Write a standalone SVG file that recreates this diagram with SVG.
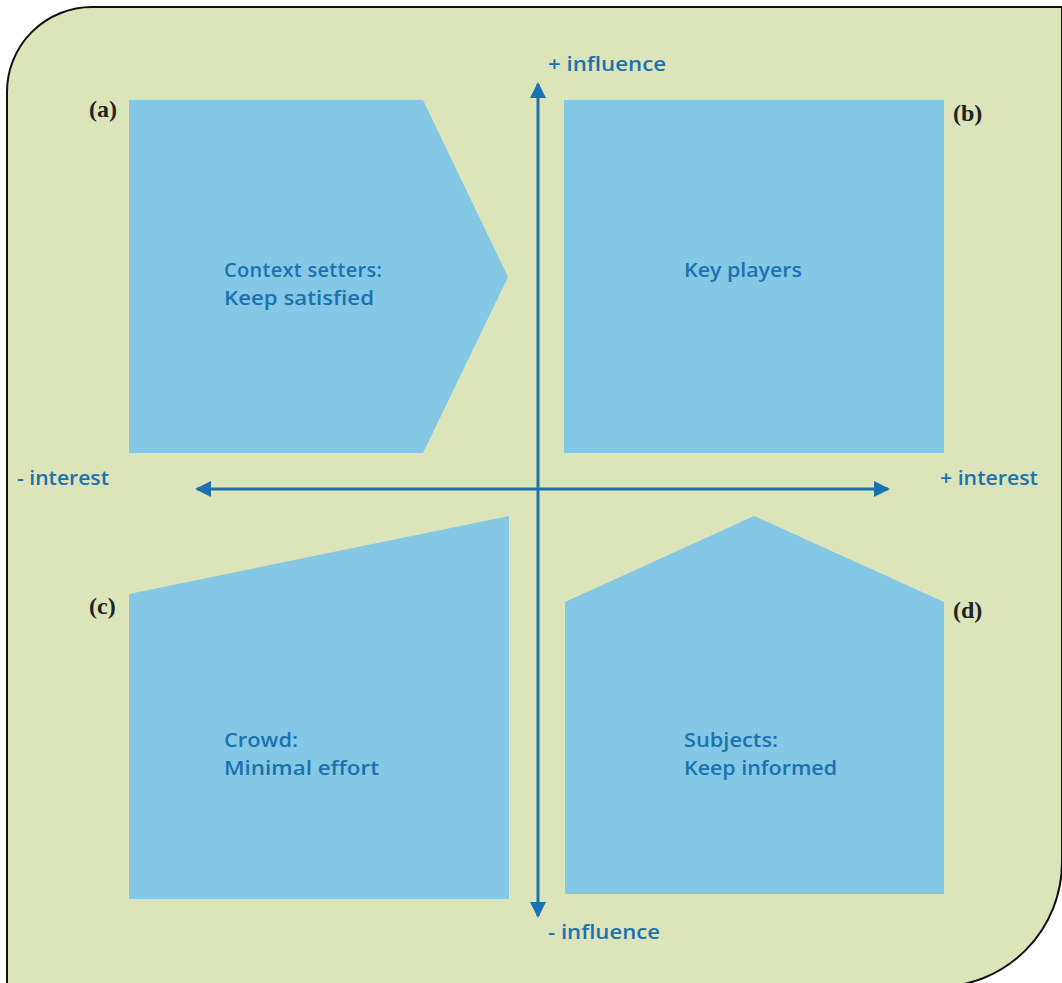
<svg xmlns="http://www.w3.org/2000/svg" width="1062" height="983" viewBox="0 0 1062 983">
<defs>
<style>
.box{fill:#84c8e6;}
.lbl{font-family:"Open Sans","Noto Sans",sans-serif;font-weight:600;font-size:20px;fill:#1a72b0;}
.ax{font-family:"Open Sans","Noto Sans",sans-serif;font-weight:600;font-size:20px;fill:#1a72b0;}
.tag{font-family:"Liberation Serif",serif;font-weight:bold;font-size:24px;fill:#222;}
.axis{stroke:#1a72b0;stroke-width:3;fill:none;}
</style>
<marker id="ah" viewBox="0 0 16 16" refX="14" refY="8" markerWidth="16" markerHeight="16" markerUnits="userSpaceOnUse" orient="auto">
<path d="M0,0 L16,8 L0,16 Z" fill="#1a72b0"/>
</marker>
</defs>
<path d="M7,1000 L7,92 A85,85 0 0 1 92,7 L1062,7 L1062,862 A125,125 0 0 1 937,987" fill="#dce4ba" stroke="#111" stroke-width="2"/>
<g id="node-a">
<polygon class="box" points="129,100 423,100 508,277 423,453 129,453"/>
<text class="lbl" x="224" y="277" textLength="158" lengthAdjust="spacing">Context setters:</text>
<text class="lbl" x="224" y="305" textLength="150" lengthAdjust="spacingAndGlyphs">Keep satisfied</text>
<text class="tag" x="89" y="117">(a)</text>
</g>
<g id="node-b">
<rect class="box" x="564" y="100" width="380" height="353"/>
<text class="lbl" x="684" y="277" textLength="118" lengthAdjust="spacingAndGlyphs">Key players</text>
<text class="tag" x="953" y="121">(b)</text>
</g>
<g id="node-c">
<polygon class="box" points="129,594 509,516 509,899 129,899"/>
<text class="lbl" x="224" y="747" textLength="74" lengthAdjust="spacingAndGlyphs">Crowd:</text>
<text class="lbl" x="224" y="775" textLength="155" lengthAdjust="spacingAndGlyphs">Minimal effort</text>
<text class="tag" x="89" y="614">(c)</text>
</g>
<g id="node-d">
<polygon class="box" points="565,602 754,516 944,602 944,894 565,894"/>
<text class="lbl" x="684" y="747" textLength="94" lengthAdjust="spacingAndGlyphs">Subjects:</text>
<text class="lbl" x="684" y="775" textLength="153" lengthAdjust="spacingAndGlyphs">Keep informed</text>
<text class="tag" x="953" y="618">(d)</text>
</g>
<g id="connectors">
<line class="axis" x1="538" y1="489" x2="538" y2="84" marker-end="url(#ah)"/>
<line class="axis" x1="538" y1="489" x2="538" y2="916" marker-end="url(#ah)"/>
<line class="axis" x1="538" y1="489" x2="197" y2="489" marker-end="url(#ah)"/>
<line class="axis" x1="538" y1="489" x2="888" y2="489" marker-end="url(#ah)"/>
</g>
<g id="axis-labels">
<text class="ax" x="548" y="71" textLength="118" lengthAdjust="spacingAndGlyphs">+ influence</text>
<text class="ax" x="548" y="939" textLength="112" lengthAdjust="spacingAndGlyphs">- influence</text>
<text class="ax" x="17" y="485" textLength="92" lengthAdjust="spacingAndGlyphs">- interest</text>
<text class="ax" x="940" y="485" textLength="98" lengthAdjust="spacingAndGlyphs">+ interest</text>
</g>
</svg>
